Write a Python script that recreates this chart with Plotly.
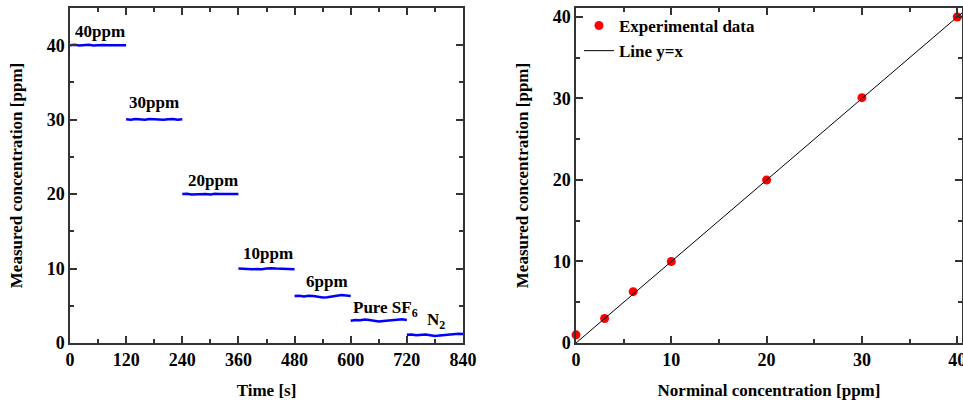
import plotly.graph_objects as go

# ---------------- data ----------------
seg_starts = [0, 120, 240, 360, 480, 600, 720]
seg_offsets = [0, 10, 20, 30, 40, 50, 60, 70, 80, 90, 100, 110, 120]
s40 = [40.0, 40.05, 39.95, 40.0, 40.05, 39.95, 40.0, 40.02, 39.98, 40.0, 40.05, 39.97, 40.0]
s30 = [30.05, 30.0, 30.1, 30.05, 30.0, 30.1, 30.05, 30.1, 30.0, 30.05, 30.1, 30.0, 30.05]
s20 = [20.0, 20.05, 19.95, 20.0, 20.05, 20.0, 19.95, 20.05, 20.0, 20.02, 19.98, 20.0, 20.0]
s10 = [10.0, 9.95, 9.85, 9.9, 9.95, 9.9, 10.0, 10.05, 10.0, 9.95, 10.0, 9.95, 9.9]
s6 = [6.3, 6.35, 6.25, 6.35, 6.3, 6.2, 6.1, 6.15, 6.3, 6.35, 6.45, 6.4, 6.3]
s_sf6 = [3.0, 3.1, 3.05, 3.15, 3.1, 3.0, 2.9, 2.95, 3.0, 3.1, 3.15, 3.2, 3.1]
s_n2 = [1.1, 1.15, 1.05, 1.1, 1.15, 1.05, 0.95, 1.0, 1.05, 1.1, 1.2, 1.25, 1.2]
segments = [s40, s30, s20, s10, s6, s_sf6, s_n2]

labels = ["40ppm", "30ppm", "20ppm", "10ppm", "6ppm", "Pure SF<sub>6</sub>", "N<sub>2</sub>"]
label_x = [6, 122, 248, 366, 501, 600, 758]
label_y = [41.8, 32.3, 21.8, 12.0, 8.3, 4.6, 3.0]

nominal = [0, 3, 6, 10, 20, 30, 40]
measured = [1.0, 3.0, 6.3, 10.0, 20.0, 30.1, 40.0]
line_xy = [0, 45]

time_ticks = [0, 120, 240, 360, 480, 600, 720, 840]

# ---------------- figure ----------------
FONT = "Liberation Serif"
W, H = 963, 400
fig = go.Figure()

for start, seg in zip(seg_starts, segments):
    fig.add_trace(go.Scatter(
        x=[start + o for o in seg_offsets], y=seg, mode="lines",
        line=dict(color="#0000ff", width=2.5), showlegend=False,
        xaxis="x", yaxis="y"))

fig.add_trace(go.Scatter(
    x=nominal, y=measured, mode="markers", name="Experimental data",
    marker=dict(color="#ff0000", size=9), cliponaxis=False,
    xaxis="x2", yaxis="y2"))
fig.add_trace(go.Scatter(
    x=line_xy, y=line_xy, mode="lines", name="Line y=x",
    line=dict(color="black", width=1),
    xaxis="x2", yaxis="y2"))

for t, lx, ly in zip(labels, label_x, label_y):
    fig.add_annotation(x=lx, y=ly, xref="x", yref="y", text=t, showarrow=False,
                       xanchor="left", yanchor="middle",
                       font=dict(family=FONT, size=17, color="black", weight="bold"))

axis_common = dict(
    showgrid=False, zeroline=False, showline=True, linecolor="#333333", linewidth=1.5,
    mirror="ticks", ticks="inside", ticklen=7, tickwidth=1.5, tickcolor="#333333",
    tickfont=dict(family=FONT, size=18, color="black", weight="bold"),
    automargin=False, ticklabeloverflow="allow",
)
minor = dict(ticks="inside", ticklen=4, tickwidth=1.5, tickcolor="#333333")
title_font = dict(family=FONT, size=17, color="black", weight="bold")

fig.update_layout(
    width=W, height=H,
    margin=dict(l=0, r=0, t=8, b=57, autoexpand=False),
    plot_bgcolor="white", paper_bgcolor="white",
    font=dict(family=FONT, size=17, color="black", weight="bold"),
    xaxis=dict(domain=[70 / W, 463 / W], range=[0, 840], tickvals=time_ticks,
               minor=dict(dtick=60, **minor), anchor="y",
               title=dict(text="Time [s]", font=title_font, standoff=18), **axis_common),
    yaxis=dict(domain=[0, 1], range=[0, 45], dtick=10,
               minor=dict(dtick=5, **minor), anchor="x",
               title=dict(text="Measured concentration [ppm]", font=title_font, standoff=20),
               **axis_common),
    xaxis2=dict(domain=[576 / W, 962 / W], range=[0, 40.5], dtick=10,
                minor=dict(dtick=5, **minor), anchor="y2",
                title=dict(text="Norminal concentration [ppm]", font=title_font, standoff=18),
                **axis_common),
    yaxis2=dict(domain=[0, 1], range=[0, 41.1], dtick=10,
                minor=dict(dtick=5, **minor), anchor="x2",
                title=dict(text="Measured concentration [ppm]", font=title_font, standoff=20),
                **axis_common),
    legend=dict(x=579 / W, xanchor="left", y=1.0, yanchor="top",
                xref="paper", bgcolor="rgba(0,0,0,0)",
                font=dict(family=FONT, size=17, color="black", weight="bold"),
                tracegroupgap=0),
)

fig.write_html("out.html")
